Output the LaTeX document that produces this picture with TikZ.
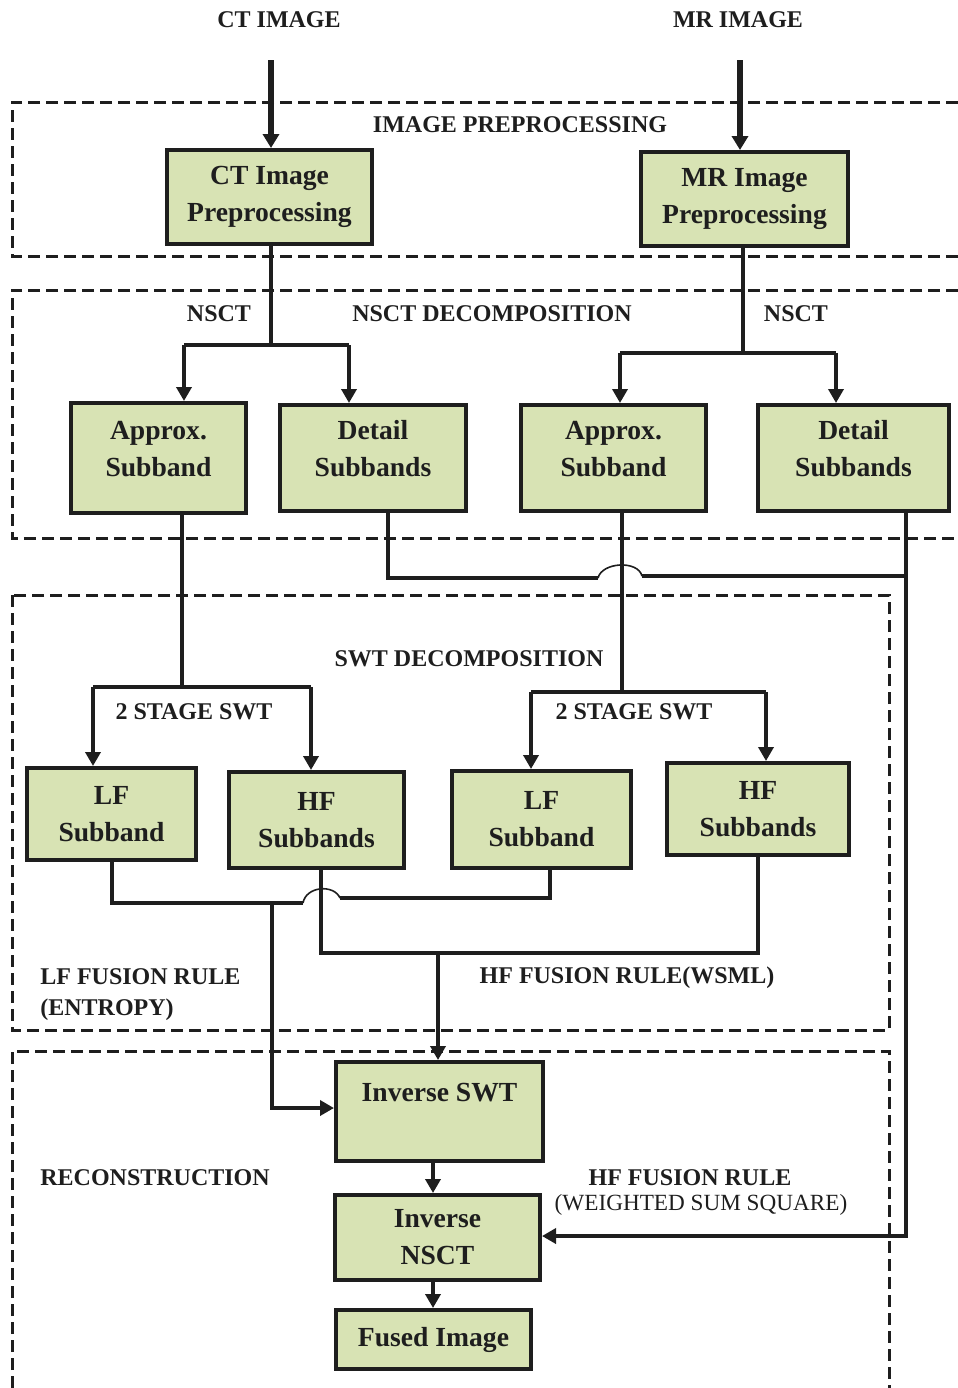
\documentclass[tikz,border=0pt]{standalone}
\usepackage{fontspec}
\setmainfont{Liberation Serif}
\usetikzlibrary{arrows.meta}
\definecolor{boxfill}{RGB}{216,227,180}
\definecolor{ink}{RGB}{30,30,30}
\begin{document}
\begin{tikzpicture}[x=0.5pt,y=-0.5pt,
  blktext/.style={align=center, text=ink, inner sep=0pt,
    font=\fontsize{13.8}{18.5}\selectfont\bfseries},
  blk/.style={draw=ink, fill=boxfill, line width=2pt, blktext},
  lbl/.style={font=\fontsize{12}{15.5}\selectfont\bfseries, text=ink, inner sep=0pt},
  wire/.style={draw=ink, line width=2.2pt},
  arr/.style={wire, -{Triangle[length=7pt,width=7.5pt]}},
  inarr/.style={draw=ink, line width=3pt, -{Triangle[length=7pt,width=8pt]}},
  zone/.style={draw=ink, line width=1.5pt, dash pattern=on 6pt off 3pt},
  hop/.style={draw=ink, line width=0.8pt},
  hightext/.style={label={[blktext, yshift=4.5pt]center:#1}}
]
\useasboundingbox (0,0) rectangle (958,1388);

% dashed stage frames
\draw[zone] (958,102) -- (12,102) -- (12,256) -- (958,256);
\draw[zone] (958,290) -- (12,290) -- (12,538) -- (958,538);
\draw[zone] (12,595) rectangle (889,1030);
\draw[zone] (12,1388) -- (12,1051) -- (889,1051) -- (889,1388);

% stage titles and notes
\node[lbl] (tct) at (279,20) {CT IMAGE};
\node[lbl] (tmr) at (738,20) {MR IMAGE};
\node[lbl] (tpre) at (520,125) {IMAGE PREPROCESSING};
\node[lbl] (tnl) at (219,314) {NSCT};
\node[lbl] (tnsct) at (492,314) {NSCT DECOMPOSITION};
\node[lbl] (tnr) at (796,314) {NSCT};
\node[lbl] (tswt) at (469,659) {SWT DECOMPOSITION};
\node[lbl] (tsl) at (194,712) {2 STAGE SWT};
\node[lbl] (tsr) at (634,712) {2 STAGE SWT};
\node[lbl, align=left, anchor=west] (tlf) at (40,995) {LF FUSION RULE\\(ENTROPY)};
\node[lbl] (thf) at (627,978) {HF FUSION RULE(WSML)};
\node[lbl, anchor=west] (trec) at (40,1178) {RECONSTRUCTION};
\node[lbl] (thf2) at (690,1178) {HF FUSION RULE};
\node[lbl, font=\fontsize{11.6}{15.5}\selectfont] (tws) at (701,1205) {(WEIGHTED SUM SQUARE)};

% processing blocks
\node[blk, minimum width=102.5pt, minimum height=47pt] (ctpre) at (269.5,197) {CT Image\\Preprocessing};
\node[blk, minimum width=103.5pt, minimum height=47pt] (mrpre) at (744.5,199) {MR Image\\Preprocessing};
\node[blk, minimum width=87.5pt, minimum height=55pt, hightext={Approx.\\Subband}] (apL) at (158.5,458) {};
\node[blk, minimum width=93pt, minimum height=53pt, hightext={Detail\\Subbands}] (detL) at (373,458) {};
\node[blk, minimum width=92.5pt, minimum height=53pt, hightext={Approx.\\Subband}] (apR) at (613.5,458) {};
\node[blk, minimum width=95.5pt, minimum height=53pt, hightext={Detail\\Subbands}] (detR) at (853.5,458) {};
\node[blk, minimum width=84.5pt, minimum height=46pt] (lfL) at (111.5,814) {LF\\Subband};
\node[blk, minimum width=87.5pt, minimum height=48pt] (hfL) at (316.5,820) {HF\\Subbands};
\node[blk, minimum width=89.5pt, minimum height=48.5pt] (lfR) at (541.5,819.5) {LF\\Subband};
\node[blk, minimum width=91pt, minimum height=46pt] (hfR) at (758,809) {HF\\Subbands};
\node[blk, minimum width=103.5pt, text height=19.5pt, text depth=30pt] (iswt) at (439.5,1111.5) {Inverse SWT};
\node[blk, minimum width=102.5pt, minimum height=42.5pt] (insct) at (437.5,1237.5) {Inverse\\NSCT};
\node[blk, minimum width=97.5pt, minimum height=29.5pt] (fused) at (433.5,1339.5) {Fused Image};

% junction and corner points
\coordinate (ctin) at (271,60);
\coordinate (mrin) at (740,60);
\coordinate (cts) at (271,345);
\coordinate (ctl) at (184,345);
\coordinate (ctr) at (349,345);
\coordinate (mrs) at (743,353);
\coordinate (mrl) at (620,353);
\coordinate (mrr) at (836,353);
\coordinate (swl) at (182,687);
\coordinate (swll) at (93,687);
\coordinate (swlr) at (311,687);
\coordinate (swr) at (622,692);
\coordinate (swrl) at (531,692);
\coordinate (swrr) at (766,692);
\coordinate (d1) at (388,578);
\coordinate (d2) at (598,578);
\coordinate (d3) at (642,576);
\coordinate (dj) at (906,576);
\coordinate (dk) at (906,1236);
\coordinate (l1) at (112,903);
\coordinate (l2) at (303,903);
\coordinate (l3) at (340,898);
\coordinate (l4) at (550,898);
\coordinate (lj) at (272,903);
\coordinate (lk) at (272,1108);
\coordinate (h1) at (321,953);
\coordinate (h2) at (758,953);
\coordinate (hj) at (438,953);
\coordinate (rx) at (433,1180);

% inputs
\draw[inarr] (ctin) -- (ctin |- ctpre.north);
\draw[inarr] (mrin) -- (mrin |- mrpre.north);

% NSCT decomposition
\draw[wire] (ctpre.south -| cts) -- (cts);
\draw[arr] (ctl) -- (ctl |- apL.north);
\draw[arr] (ctr) -- (ctr |- detL.north);
\draw[wire] (ctl) -- (ctr);
\draw[wire] (mrpre.south -| mrs) -- (mrs);
\draw[arr] (mrl) -- (mrl |- apR.north);
\draw[arr] (mrr) -- (mrr |- detR.north);
\draw[wire] (mrl) -- (mrr);

% SWT decomposition
\draw[wire] (apL.south -| swl) -- (swl);
\draw[arr] (swll) -- (swll |- lfL.north);
\draw[arr] (swlr) -- (swlr |- hfL.north);
\draw[wire] (swll) -- (swlr);
\draw[wire] (apR.south -| swr) -- (swr);
\draw[arr] (swrl) -- (swrl |- lfR.north);
\draw[arr] (swrr) -- (swrr |- hfR.north);
\draw[wire] (swrl) -- (swrr);

% detail subbands to inverse NSCT
\draw[wire] (detL.south -| d1) -- (d1) -- (d2);
\draw[hop] (d2) .. controls (602,562) and (638,560) .. (d3);
\draw[wire] (d3) -- (dj);
\draw[arr] (detR.south -| dj) -- (dk) -- (dk -| insct.east);

% LF fusion
\draw[wire] (lfL.south -| l1) -- (l1) -- (l2);
\draw[hop] (l2) .. controls (306,886) and (334,884) .. (l3);
\draw[wire] (l3) -- (l4) -- (lfR.south -| l4);
\draw[arr] (lj) -- (lk) -- (lk -| iswt.west);

% HF fusion
\draw[wire] (hfL.south -| h1) -- (h1) -- (h2) -- (hfR.south -| h2);
\draw[arr] (hj) -- (hj |- iswt.north);

% reconstruction
\draw[arr] (iswt.south -| rx) -- (insct.north -| rx);
\draw[arr] (insct.south -| rx) -- (fused.north -| rx);
\end{tikzpicture}
\end{document}
